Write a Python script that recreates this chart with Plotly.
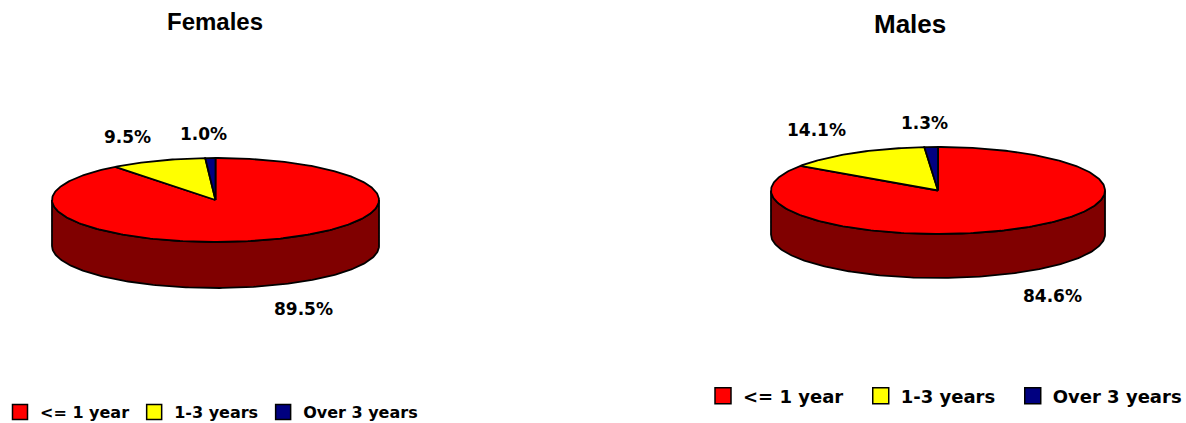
import numpy as np
import plotly.graph_objects as go

# ---------------- data ----------------
categories = ["<= 1 year", "1-3 years", "Over 3 years"]
females = [89.5, 9.5, 1.0]
males = [84.6, 14.1, 1.3]
chart_titles = ["Females", "Males"]

top_colors = ["#FF0000", "#FFFF00", "#000080"]
side_colors = ["#800000", "#808000", "#000040"]

W, H = 1186, 423

# geometry / style of each 3-D pie (layout only)
pies = [
    dict(values=females, title=chart_titles[0], cx=215.5, cy=200, rx=163.5, ry=42, depth=46,
         tx=215, ty=21, tsize=24, lsize=17, legend="legend", msize=15, pad=0),
    dict(values=males, title=chart_titles[1], cx=938, cy=190.5, rx=167, ry=43.5, depth=44,
         tx=910, ty=24, tsize=26, lsize=17, legend="legend2", msize=16, pad=2),
]

LABEL_FONT = "DejaVu Sans"
TITLE_FONT = "Liberation Sans"
OUTLINE = dict(color="black", width=1.8)


def arc(p, a0, a1, dy=0.0):
    """points along the ellipse between angles a0..a1 (deg, clockwise from 12 o'clock)."""
    n = max(2, int(abs(a1 - a0) / 1.0) + 2)
    t = np.radians(np.linspace(a0, a1, n))
    x = p["cx"] + p["rx"] * np.sin(t)
    y = p["cy"] - p["ry"] * np.cos(t) + dy
    return x, y


fig = go.Figure()
annotations = []

for p in pies:
    vals = np.array(p["values"], dtype=float)
    frac = vals / vals.sum()
    ends = np.cumsum(frac) * 360.0
    starts = ends - frac * 360.0

    # side walls (visible front half: 90..270 deg)
    for i in range(len(vals)):
        a0, a1 = max(starts[i], 90.0), min(ends[i], 270.0)
        if a1 <= a0:
            continue
        xt, yt = arc(p, a0, a1)
        xb, yb = arc(p, a1, a0, dy=p["depth"])
        xs = np.concatenate([xt, xb, xt[:1]])
        ys = np.concatenate([yt, yb, yt[:1]])
        fig.add_trace(go.Scatter(x=xs, y=ys, mode="lines", fill="toself",
                                 fillcolor=side_colors[i], line=OUTLINE,
                                 showlegend=False, hoverinfo="skip"))

    # top face wedges
    for i in range(len(vals)):
        xa, ya = arc(p, starts[i], ends[i])
        xs = np.concatenate([[p["cx"]], xa, [p["cx"]]])
        ys = np.concatenate([[p["cy"]], ya, [p["cy"]]])
        fig.add_trace(go.Scatter(x=xs, y=ys, mode="lines", fill="toself",
                                 fillcolor=top_colors[i], line=OUTLINE,
                                 showlegend=False, hoverinfo="text",
                                 text=f"{categories[i]}: {vals[i]:.1f}%"))

    # data labels
    for i in range(len(vals)):
        mid = np.radians((starts[i] + ends[i]) / 2.0)
        s, c = np.sin(mid), np.cos(mid)
        px = p["cx"] + p["rx"] * s
        py = p["cy"] - p["ry"] * c + (p["depth"] if c < 0 else 0)
        off = 12
        x, y = px + off * s, py - off * c
        if abs(s) <= 0.2:
            x -= 6
        xanchor = "right" if s < -0.2 else ("left" if s > 0.2 else "center")
        yanchor = "bottom" if c > 0 else "top"
        annotations.append(dict(x=x, y=y, xref="x", yref="y", text=f"{vals[i]:.1f}%",
                                showarrow=False, xanchor=xanchor, yanchor=yanchor,
                                font=dict(family=LABEL_FONT, size=p["lsize"], color="black",
                                          weight="bold")))

    # title
    annotations.append(dict(x=p["tx"], y=p["ty"], xref="x", yref="y", text=p["title"],
                            showarrow=False, xanchor="center", yanchor="middle",
                            font=dict(family=TITLE_FONT, size=p["tsize"], color="black",
                                      weight="bold")))

    # legend entries
    for i in range(len(vals)):
        pad = "\u00a0" * p["pad"] if i < len(vals) - 1 else ""
        fig.add_trace(go.Scatter(x=[None], y=[None], mode="markers", name=categories[i] + pad,
                                 legend=p["legend"], hoverinfo="skip",
                                 marker=dict(symbol="square", size=p["msize"],
                                             color=top_colors[i],
                                             line=dict(color="black", width=1.5))))

legend_common = dict(orientation="h", xanchor="left", yanchor="middle",
                     bgcolor="rgba(0,0,0,0)", borderwidth=0, traceorder="normal",
                     itemclick=False, itemdoubleclick=False)

fig.update_layout(
    width=W, height=H,
    margin=dict(l=0, r=0, t=0, b=0, pad=0, autoexpand=False),
    paper_bgcolor="white", plot_bgcolor="white",
    xaxis=dict(range=[0, W], visible=False, fixedrange=True),
    yaxis=dict(range=[H, 0], visible=False, fixedrange=True),
    annotations=annotations,
    legend=dict(**legend_common, x=0.0, y=1 - 412 / H,
                font=dict(family=LABEL_FONT, size=16, color="black", weight="bold")),
    legend2=dict(**legend_common, x=(723 - 20) / W, y=1 - 396 / H,
                 font=dict(family=LABEL_FONT, size=18, color="black", weight="bold")),
)

fig.write_html("out.html", config={"displayModeBar": False},
               post_script="document.body.style.margin='0';document.body.style.overflow='hidden';")
